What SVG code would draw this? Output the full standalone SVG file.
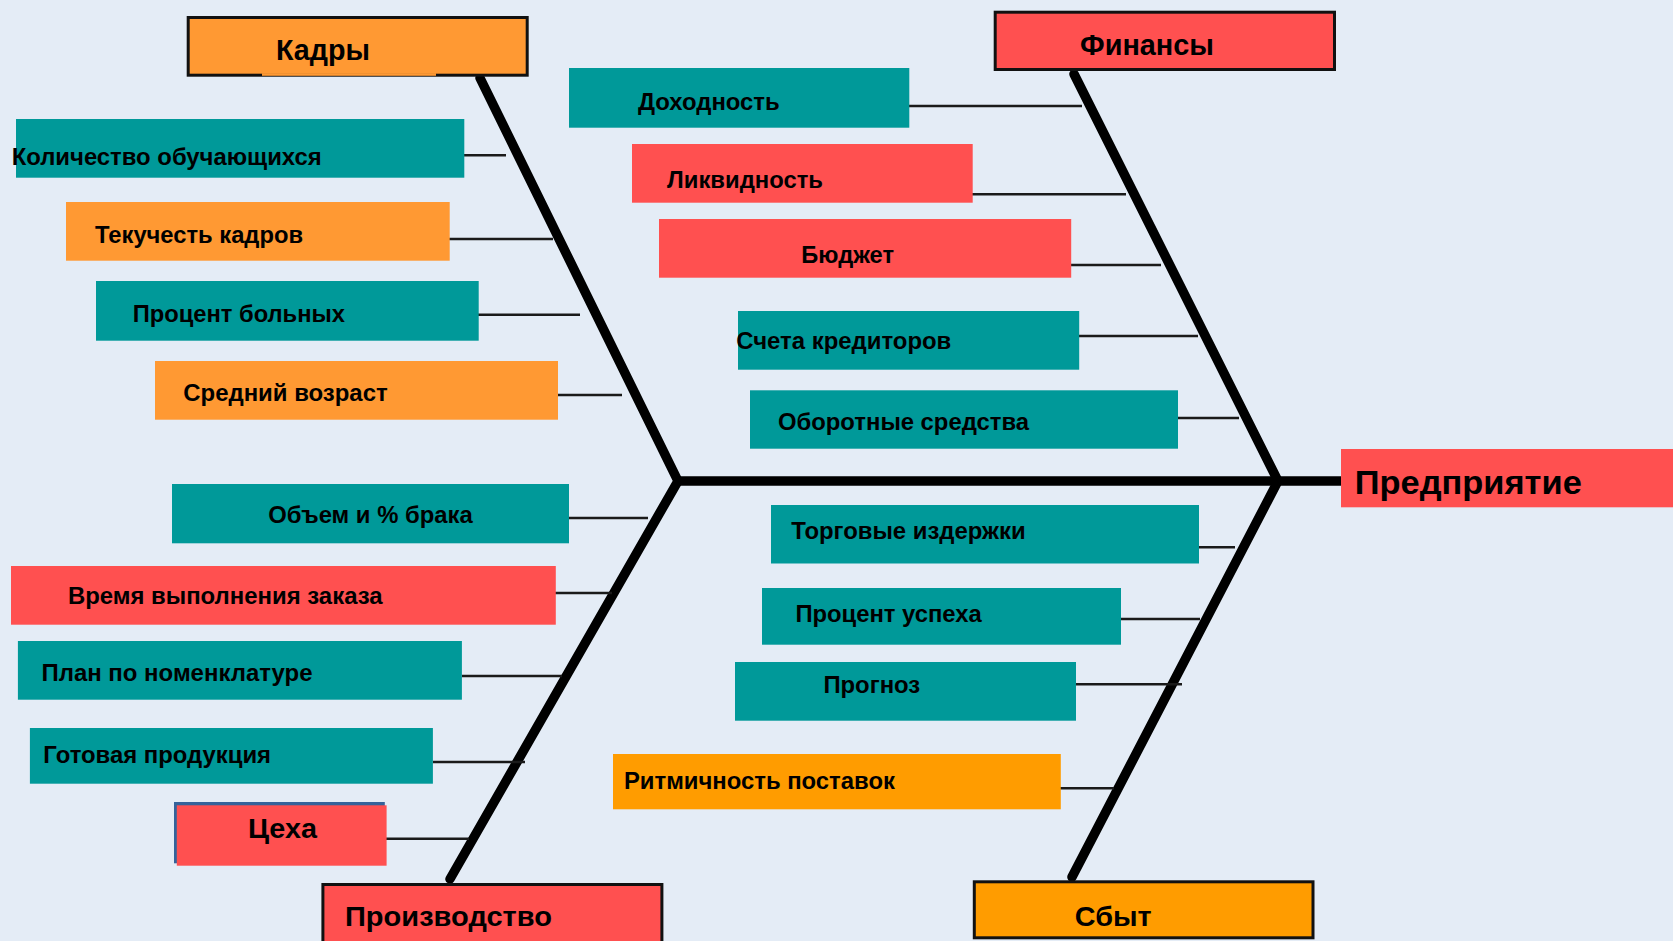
<svg xmlns="http://www.w3.org/2000/svg" width="1673" height="941" viewBox="0 0 1673 941">
  <style>
    .lbl { font-family: "Liberation Sans", Arial, sans-serif; font-weight: bold; font-size: 24px; fill: #000; }
    .head { font-size: 29px; }
    .big { font-size: 33px; }
    .mid { font-size: 28px; }
    .teal { fill: #009999; }
    .red { fill: #FF5050; }
    .org { fill: #FF9933; }
    .org2 { fill: #FF9C00; }
    .frame { stroke: #111; stroke-width: 3; }
    .spine { stroke: #000; stroke-width: 9.5; stroke-linecap: round; fill: none; }
    .branch { stroke: #1a1a1a; stroke-width: 2.6; fill: none; }
  </style>

  <!-- background -->
  <rect x="0" y="0" width="1673" height="941" fill="#E4ECF6"/>

  <!-- fishbone skeleton and branch lines -->
  <g id="connectors">
    <line class="spine" x1="678" y1="481" x2="1341" y2="481" stroke-width="10" stroke-linecap="butt"/>
    <polyline class="spine" points="480,78 678,481 450,879" stroke-linejoin="miter"/>
    <polyline class="spine" points="1074,74 1278,481 1072,877" stroke-linejoin="miter"/>

    <line class="branch" x1="464" y1="155.3" x2="506" y2="155.3"/>
    <line class="branch" x1="449" y1="239" x2="553" y2="239"/>
    <line class="branch" x1="478" y1="314.7" x2="580" y2="314.7"/>
    <line class="branch" x1="558" y1="395" x2="622" y2="395"/>
    <line class="branch" x1="569" y1="518" x2="648" y2="518"/>
    <line class="branch" x1="555" y1="593" x2="612" y2="593"/>
    <line class="branch" x1="462" y1="676" x2="562" y2="676"/>
    <line class="branch" x1="433" y1="762" x2="525" y2="762"/>
    <line class="branch" x1="386" y1="838.7" x2="469" y2="838.7"/>

    <line class="branch" x1="909" y1="106" x2="1082" y2="106"/>
    <line class="branch" x1="972" y1="194.3" x2="1126" y2="194.3"/>
    <line class="branch" x1="1071" y1="265" x2="1161" y2="265"/>
    <line class="branch" x1="1079" y1="336" x2="1198" y2="336"/>
    <line class="branch" x1="1178" y1="418" x2="1239" y2="418"/>

    <line class="branch" x1="1199" y1="547.3" x2="1235" y2="547.3"/>
    <line class="branch" x1="1121" y1="619" x2="1200" y2="619"/>
    <line class="branch" x1="1076" y1="684.3" x2="1182" y2="684.3"/>
    <line class="branch" x1="1060" y1="788.3" x2="1114" y2="788.3"/>
  </g>

  <!-- category: personnel -->
  <g id="kadry">
    <rect class="org frame" x="188.2" y="17.5" width="339" height="57.7"/>
    <rect class="org" x="262" y="73.2" width="174" height="2.6"/>
    <text class="lbl head" x="276" y="60" textLength="94" lengthAdjust="spacingAndGlyphs">Кадры</text>
  </g>
  <g id="kolichestvo">
    <rect class="teal" x="16" y="119" width="448.3" height="58.7"/>
    <text class="lbl" x="11.7" y="165" textLength="310" lengthAdjust="spacingAndGlyphs">Количество обучающихся</text>
  </g>
  <g id="tekuchest">
    <rect class="org" x="66" y="202" width="383.7" height="58.7"/>
    <text class="lbl" x="95" y="242.7" textLength="208" lengthAdjust="spacingAndGlyphs">Текучесть кадров</text>
  </g>
  <g id="bolnye">
    <rect class="teal" x="96" y="281" width="382.7" height="59.7"/>
    <text class="lbl" x="132.7" y="322.3" textLength="212.3" lengthAdjust="spacingAndGlyphs">Процент больных</text>
  </g>
  <g id="vozrast">
    <rect class="org" x="155" y="361" width="403" height="58.7"/>
    <text class="lbl" x="183.3" y="400.7" textLength="204.4" lengthAdjust="spacingAndGlyphs">Средний возраст</text>
  </g>

  <!-- category: production -->
  <g id="brak">
    <rect class="teal" x="172" y="484" width="397" height="59.3"/>
    <text class="lbl" x="268.3" y="523.3" textLength="204.4" lengthAdjust="spacingAndGlyphs">Объем и % брака</text>
  </g>
  <g id="vremya">
    <rect class="red" x="11" y="566" width="544.8" height="58.7"/>
    <text class="lbl" x="67.9" y="604" textLength="314.7" lengthAdjust="spacingAndGlyphs">Время выполнения заказа</text>
  </g>
  <g id="plan">
    <rect class="teal" x="17.9" y="641" width="444" height="58.7"/>
    <text class="lbl" x="41.5" y="681.3" textLength="271" lengthAdjust="spacingAndGlyphs">План по номенклатуре</text>
  </g>
  <g id="gotovaya">
    <rect class="teal" x="29.9" y="728" width="403" height="55.7"/>
    <text class="lbl" x="43.3" y="763" textLength="227.7" lengthAdjust="spacingAndGlyphs">Готовая продукция</text>
  </g>
  <g id="tseha">
    <rect x="174" y="802" width="210.8" height="61.3" fill="#35639A"/>
    <rect class="red" x="176.8" y="805.3" width="209.8" height="60.4"/>
    <text class="lbl mid" x="248" y="838" textLength="69" lengthAdjust="spacingAndGlyphs">Цеха</text>
  </g>
  <g id="proizvodstvo">
    <rect class="red frame" x="322.9" y="884.5" width="339" height="62"/>
    <text class="lbl mid" x="345" y="926.3" textLength="207" lengthAdjust="spacingAndGlyphs">Производство</text>
  </g>

  <!-- category: finance -->
  <g id="finansy">
    <rect class="red frame" x="995.2" y="12.2" width="339.3" height="57.3"/>
    <text class="lbl head" x="1080" y="55" textLength="134" lengthAdjust="spacingAndGlyphs">Финансы</text>
  </g>
  <g id="dohodnost">
    <rect class="teal" x="569" y="68" width="340.3" height="59.7"/>
    <text class="lbl" x="638" y="110" textLength="141.7" lengthAdjust="spacingAndGlyphs">Доходность</text>
  </g>
  <g id="likvidnost">
    <rect class="red" x="632" y="144" width="340.7" height="58.7"/>
    <text class="lbl" x="667" y="188.3" textLength="156" lengthAdjust="spacingAndGlyphs">Ликвидность</text>
  </g>
  <g id="byudzhet">
    <rect class="red" x="659" y="219" width="412.2" height="58.7"/>
    <text class="lbl" x="801.3" y="263.3" textLength="92.7" lengthAdjust="spacingAndGlyphs">Бюджет</text>
  </g>
  <g id="scheta">
    <rect class="teal" x="738" y="311" width="341.2" height="58.7"/>
    <text class="lbl" x="736.3" y="349" textLength="215" lengthAdjust="spacingAndGlyphs">Счета кредиторов</text>
  </g>
  <g id="oborotnye">
    <rect class="teal" x="750" y="390.3" width="428" height="58.4"/>
    <text class="lbl" x="778" y="430" textLength="251" lengthAdjust="spacingAndGlyphs">Оборотные средства</text>
  </g>

  <!-- category: sales -->
  <g id="izderzhki">
    <rect class="teal" x="771" y="505" width="428" height="58.5"/>
    <text class="lbl" x="791.3" y="539" textLength="234.3" lengthAdjust="spacingAndGlyphs">Торговые издержки</text>
  </g>
  <g id="uspeh">
    <rect class="teal" x="762" y="588" width="359" height="56.7"/>
    <text class="lbl" x="795.4" y="621.7" textLength="186.3" lengthAdjust="spacingAndGlyphs">Процент успеха</text>
  </g>
  <g id="prognoz">
    <rect class="teal" x="735" y="662" width="341" height="58.7"/>
    <text class="lbl" x="823.4" y="692.7" textLength="96.8" lengthAdjust="spacingAndGlyphs">Прогноз</text>
  </g>
  <g id="ritmichnost">
    <rect class="org2" x="613" y="754" width="447.8" height="55.3"/>
    <text class="lbl" x="623.9" y="789.3" textLength="271" lengthAdjust="spacingAndGlyphs">Ритмичность поставок</text>
  </g>
  <g id="sbyt">
    <rect class="org2 frame" x="974.3" y="881.8" width="338.7" height="56"/>
    <text class="lbl mid" x="1074.8" y="926" textLength="76.8" lengthAdjust="spacingAndGlyphs">Сбыт</text>
  </g>

  <!-- effect -->
  <g id="predpriyatie">
    <rect class="red" x="1341" y="449" width="332" height="58.3"/>
    <text class="lbl big" x="1354.8" y="493.7" textLength="227" lengthAdjust="spacingAndGlyphs">Предприятие</text>
  </g>
</svg>
